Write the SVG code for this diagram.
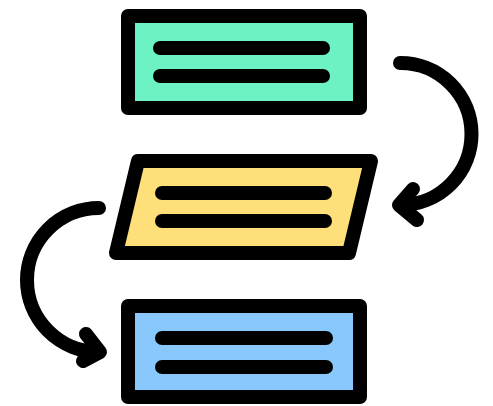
<svg xmlns="http://www.w3.org/2000/svg" width="493" height="406" viewBox="0 0 493 406">
  <style>
    .box { stroke: #000; stroke-width: 14; stroke-linejoin: round; }
    .bar { stroke: #000; stroke-width: 14; stroke-linecap: round; fill: none; }
    .flow { stroke: #000; stroke-width: 14; stroke-linecap: round; stroke-linejoin: round; fill: none; }
  </style>
  <rect width="493" height="406" fill="#ffffff"/>

  <g id="step-start">
    <rect class="box" x="128" y="16" width="232" height="92" fill="#6df3c3"/>
    <line class="bar" x1="160" y1="48" x2="323" y2="48"/>
    <line class="bar" x1="160" y1="76" x2="323" y2="76"/>
  </g>

  <g id="step-data">
    <polygon class="box" points="138,161 371,161 349,253 116,253" fill="#fedf7a"/>
    <line class="bar" x1="162" y1="193" x2="325" y2="193"/>
    <line class="bar" x1="162" y1="221" x2="325" y2="221"/>
  </g>

  <g id="step-end">
    <rect class="box" x="128" y="306" width="232" height="91" fill="#88c8fd"/>
    <line class="bar" x1="162" y1="338" x2="326" y2="338"/>
    <line class="bar" x1="162" y1="367" x2="326" y2="367"/>
  </g>

  <g id="connectors">
    <path class="flow" d="M400 63 A71 71 0 0 1 401 205"/>
    <path class="flow" d="M413 189 L399 205 L417 220"/>
    <path class="flow" d="M99 208 A72 72 0 0 0 99 352"/>
    <path class="flow" d="M86 334 L100 352 L83 361"/>
  </g>
</svg>
